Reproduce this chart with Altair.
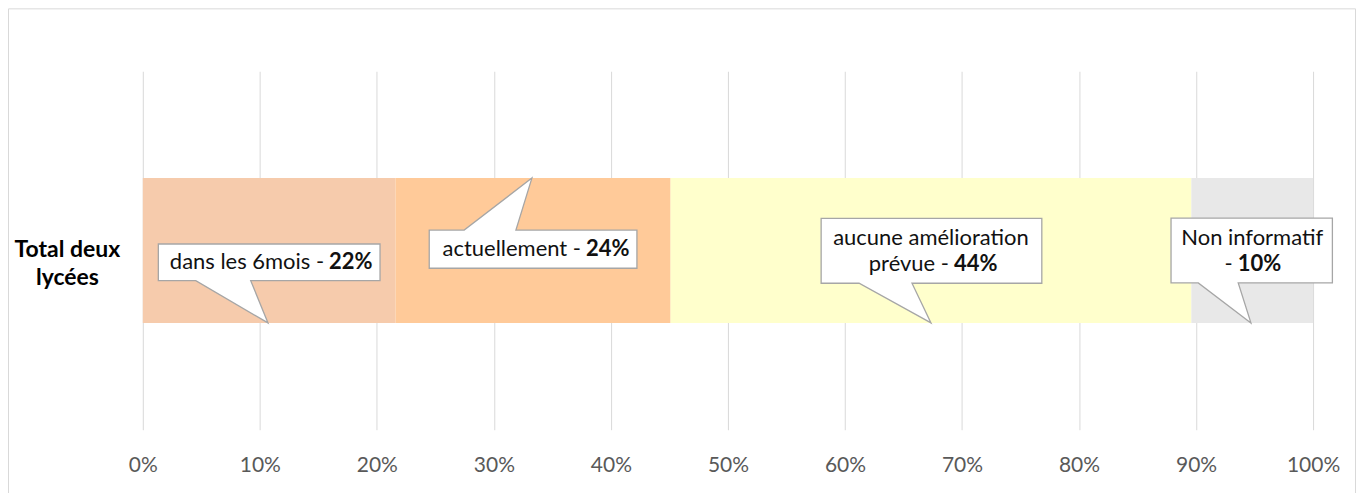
import altair as alt
import pandas as pd

# ---------------- data ----------------
category = "Total deux lycées"
segments = ["dans les 6mois", "actuellement", "aucune amélioration prévue", "Non informatif"]
values = [21.6, 23.5, 44.5, 10.4]
pct_labels = ["22%", "24%", "44%", "10%"]
x_ticks = [0, 10, 20, 30, 40, 50, 60, 70, 80, 90, 100]

# ---------------- style ----------------
colors = ["#F6CBAC", "#FFCA99", "#FFFFCC", "#E8E8E8"]
FONT = "Lato"
first_line_words = [0, 0, 2, 2]

rows = []
for i, (s, v, p) in enumerate(zip(segments, values, pct_labels)):
    w = s.split(" ")
    k = first_line_words[i]
    rows.append(dict(category=category, segment=s, value=v, pct=p, idx=i,
                     line1=" ".join(w[:k]),
                     line2=(" ".join(w[k:]) + " -").strip()))
df = pd.DataFrame(rows)

base = alt.Chart(df).transform_window(
    cum="sum(value)", sort=[alt.SortField("idx")], frame=[None, 0]
).transform_calculate(
    start="datum.cum - datum.value", mid="datum.cum - datum.value / 2"
)

xscale = alt.Scale(domain=[0, 100], nice=False, zero=True)

xaxis = alt.Axis(values=x_ticks, labelExpr="datum.value + '%'", title=None,
                 grid=True, gridColor="#D9D9D9", gridWidth=1, domain=False,
                 ticks=False, tickSize=0, labelPadding=25, labelFontSize=21,
                 labelFont=FONT, labelColor="#595959", labelBaseline="top",
                 labelAlign="center", labelFlush=False, labelOverlap=False)
yaxis = alt.Axis(title=None, domain=False, ticks=False, tickSize=0,
                 labelPadding=76, labelAlign="center", labelBaseline="middle",
                 labelFont=FONT, labelFontSize=23, labelFontWeight="bold",
                 labelColor="#000000", labelLineHeight=28,
                 labelExpr="[slice(datum.label, 0, lastindexof(datum.label, ' ')), "
                           "slice(datum.label, lastindexof(datum.label, ' ') + 1)]")

frame = alt.Chart(pd.DataFrame({"a": [0]})).mark_rect(
    fill="white", fillOpacity=0, stroke="#D9D9D9", strokeWidth=1
).encode(x=alt.value(-134.5), x2=alt.value(1214.5), y=alt.value(-62.5), y2=alt.value(440))

bars = base.mark_bar(size=145).encode(
    x=alt.X("start:Q", scale=xscale, axis=xaxis),
    x2="cum:Q",
    y=alt.Y("category:N", axis=yaxis),
    color=alt.Color("segment:N", scale=alt.Scale(domain=segments, range=colors), legend=None),
)

callout_styles = [
    dict(path="M-111,-6.5H111V30.2H-18.5L-1.2,72.5L-73.5,30.2H-111Z", junction=60, y1=None, y2=12),
    dict(path="M-104,-20.5H-69L-1.2,-72.5L-17.2,-20.5H104V17.8H-104Z", junction=53, y1=None, y2=-1.4),
    dict(path="M-110,-32.2H111V32.8H-19L0,72.5L-72,32.8H-110Z", junction=23, y1=-13, y2=14),
    dict(path="M-81.3,-32.5H80.3V32.5H-14L-1.3,72.5L-54,32.5H-81.3Z", junction=-14.5, y1=-13, y2=14),
]

TXT = dict(font=FONT, fontSize=22, color="#111111")
layers = [frame, bars]
for i, st in enumerate(callout_styles):
    sub = base.transform_filter(f"datum.idx == {i}")
    enc = dict(x=alt.X("mid:Q", scale=xscale, axis=xaxis), y=alt.Y("category:N", axis=yaxis))
    layers.append(sub.mark_point(shape=st["path"], size=4, filled=True, fill="white",
                                 stroke="#A6A6A6", strokeWidth=1.3, opacity=1).encode(**enc))
    if st["y1"] is not None:
        layers.append(sub.mark_text(align="center", baseline="middle", dy=st["y1"], **TXT)
                      .encode(text="line1:N", **enc))
    layers.append(sub.mark_text(align="right", baseline="middle", dx=st["junction"] - 5,
                                dy=st["y2"], **TXT).encode(text="line2:N", **enc))
    layers.append(sub.mark_text(align="left", baseline="middle", dx=st["junction"],
                                dy=st["y2"], fontWeight="bold", **TXT).encode(text="pct:N", **enc))

chart = alt.layer(*layers).properties(
    width=1172, height=359,
    padding={"left": 135, "top": 63, "right": 44, "bottom": 63},
    autosize=alt.AutoSizeParams(type="none"),
    background="white",
).configure_view(stroke=None)

chart.save("out.html", embed_options={"renderer": "svg", "actions": False})
